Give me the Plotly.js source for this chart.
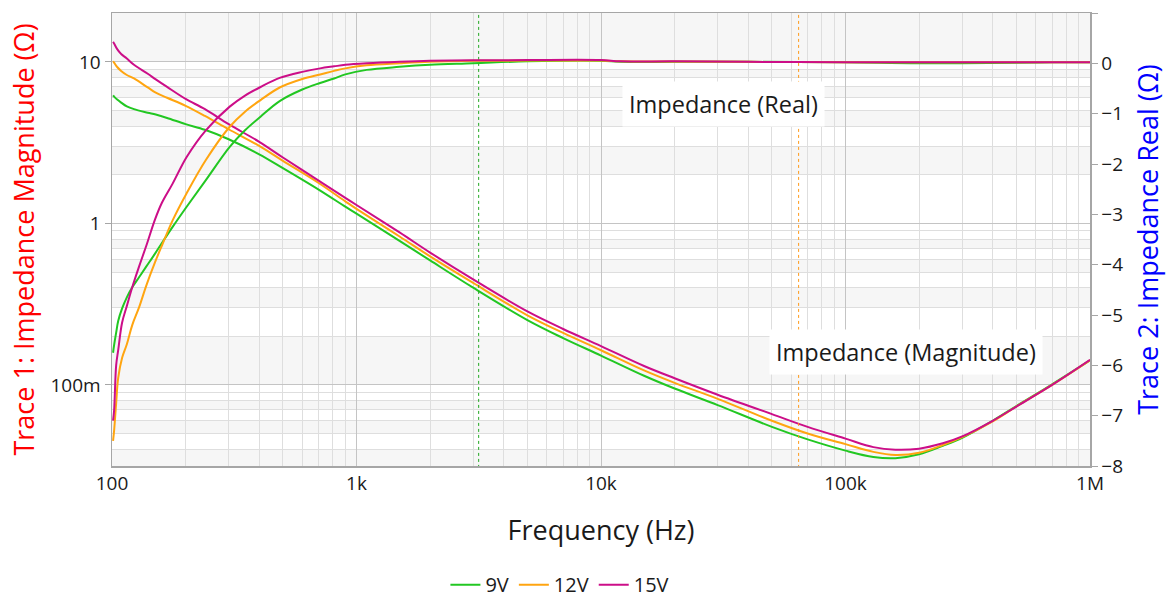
<!DOCTYPE html>
<html>
<head>
<meta charset="utf-8">
<script src="https://cdn.plot.ly/plotly-3.0.1.min.js"></script>
<style>html,body{margin:0;padding:0;background:#fff;}#chart{width:1167px;height:601px;}</style>
</head>
<body>
<div id="chart"></div>
<script>
// ---- Data ----
var seriesNames = ['9V', '12V', '15V'];
var seriesColors = ['#22c722', '#ffa510', '#cc0e88'];

// Trace 1: impedance magnitude (ohm), left log axis
var magFreq = [101, 102, 105, 109, 115, 123, 140, 151, 168, 200, 240, 300, 400, 500, 700, 900, 1000, 1500, 2000, 3000, 5000, 7000, 10000, 15000, 20000, 30000, 50000, 70000, 100000, 130000, 160000, 200000, 250000, 300000, 400000, 500000, 700000, 1000000];
var mag9V  = [6.2, 6.1, 5.85, 5.6, 5.3, 5.1, 4.85, 4.72, 4.5, 4.12, 3.8, 3.32, 2.68, 2.2, 1.62, 1.27, 1.15, 0.78, 0.59, 0.40, 0.252, 0.195, 0.152, 0.114, 0.095, 0.075, 0.055, 0.046, 0.0392, 0.0358, 0.0352, 0.0372, 0.042, 0.047, 0.060, 0.074, 0.101, 0.142];
var mag12V = [10.1, 9.9, 9.3, 8.8, 8.3, 7.9, 6.95, 6.45, 6.0, 5.35, 4.63, 3.83, 3.02, 2.44, 1.78, 1.37, 1.23, 0.83, 0.625, 0.428, 0.27, 0.21, 0.164, 0.123, 0.103, 0.082, 0.060, 0.050, 0.043, 0.0385, 0.0368, 0.0380, 0.0425, 0.0475, 0.0595, 0.0735, 0.100, 0.142];
var mag15V = [13.3, 13.0, 12.0, 11.2, 10.5, 9.6, 8.45, 7.8, 7.0, 5.9, 5.1, 4.12, 3.2, 2.56, 1.84, 1.44, 1.30, 0.88, 0.66, 0.45, 0.285, 0.222, 0.174, 0.131, 0.110, 0.087, 0.066, 0.055, 0.0465, 0.0412, 0.0397, 0.0403, 0.0435, 0.048, 0.060, 0.0735, 0.100, 0.143];

// Trace 2: impedance real (ohm), right linear axis
var realFreq = [101, 102, 104, 106, 110, 115, 121, 129, 138, 150, 160, 177, 202, 242, 303, 350, 405, 485, 600, 710, 810, 900, 1100, 1500, 2000, 3000, 5000, 10000, 12000, 20000, 40000, 100000, 200000, 500000, 700000, 1000000];
var real9V  = [-5.75, -5.6, -5.35, -5.12, -4.87, -4.65, -4.45, -4.25, -4.04, -3.78, -3.57, -3.25, -2.85, -2.32, -1.66, -1.33, -1.06, -0.75, -0.52, -0.39, -0.30, -0.22, -0.13, -0.07, -0.03, 0.0, 0.04, 0.05, 0.03, 0.03, 0.03, 0.02, 0.0, 0.01, 0.02, 0.02];
var real12V = [-7.5, -7.3, -6.75, -6.25, -5.85, -5.58, -5.2, -4.85, -4.42, -3.95, -3.62, -3.12, -2.58, -1.92, -1.26, -0.96, -0.73, -0.48, -0.31, -0.22, -0.15, -0.10, -0.04, 0.0, 0.03, 0.05, 0.055, 0.055, 0.04, 0.035, 0.03, 0.02, 0.02, 0.02, 0.02, 0.02];
var real15V = [-7.1, -6.9, -6.0, -5.7, -5.15, -4.82, -4.45, -4.04, -3.63, -3.1, -2.77, -2.39, -1.86, -1.33, -0.86, -0.64, -0.47, -0.29, -0.17, -0.10, -0.06, -0.03, 0.0, 0.03, 0.05, 0.06, 0.065, 0.065, 0.04, 0.04, 0.03, 0.02, 0.02, 0.02, 0.02, 0.02];

// Cursors (Hz)
var cursorFreqs = [3160, 64300];
var cursorColors = ['#22a822', '#ff9a1a'];

// Tick labels
var xTickVals = [100, 1000, 10000, 100000, 1000000];
var xTickText = ['100', '1k', '10k', '100k', '1M'];
var yTickVals = [0.1, 1, 10];
var yTickText = ['100m', '1', '10'];
var y2TickVals = [1, 0, -1, -2, -3, -4, -5, -6, -7, -8];

// ---- Build ----
function minorVals(lo, hi) {
  var out = [];
  for (var d = lo; d < hi; d *= 10) {
    for (var k = 2; k <= 9; k++) out.push(k * d);
  }
  return out;
}

var mags = [mag9V, mag12V, mag15V];
var reals = [real9V, real12V, real15V];
var traces = [];
for (var i = 0; i < 3; i++) {
  traces.push({
    x: realFreq, y: reals[i], type: 'scatter', mode: 'lines', yaxis: 'y2',
    name: seriesNames[i], legendgroup: seriesNames[i], showlegend: false,
    line: {color: seriesColors[i], width: 2, shape: 'spline', smoothing: 1.0},
    hoverinfo: 'skip'
  });
}
for (var j = 0; j < 3; j++) {
  traces.push({
    x: magFreq, y: mags[j], type: 'scatter', mode: 'lines', yaxis: 'y',
    name: seriesNames[j], legendgroup: seriesNames[j], showlegend: true,
    line: {color: seriesColors[j], width: 2, shape: 'spline', smoothing: 1.0}
  });
}
for (var c = 0; c < cursorFreqs.length; c++) {
  traces.push({
    x: [cursorFreqs[c], cursorFreqs[c]], y: [0.001, 1000], type: 'scatter', mode: 'lines',
    yaxis: 'y', showlegend: false, hoverinfo: 'skip',
    line: {color: cursorColors[c], width: 1, dash: 'dot'}
  });
}

// faint background bands (left-axis decade subdivisions)
var bandPairs = [[10, 30], [8, 9], [6, 7], [4, 5], [2, 3], [0.7, 0.8], [0.5, 0.6], [0.3, 0.4], [0.1, 0.2], [0.07, 0.08], [0.05, 0.06], [0.02, 0.04]];
var shapes = bandPairs.map(function (b) {
  return {type: 'rect', xref: 'paper', yref: 'y', x0: 0, x1: 1,
          y0: b[0], y1: b[1], fillcolor: '#f6f6f6', line: {width: 0}, layer: 'below'};
});

var fam = 'Open Sans, Noto Sans, sans-serif';
var tickFont = {family: fam, size: 19, color: '#1a1a1a'};

var layout = {
  width: 1167, height: 601,
  margin: {l: 112, r: 77, t: 13, b: 135, autoexpand: false},
  paper_bgcolor: '#ffffff', plot_bgcolor: '#ffffff',
  showlegend: true,
  legend: {orientation: 'h', x: 0.458, y: -0.262, xanchor: 'center', yanchor: 'middle',
           font: {family: fam, size: 20, color: '#1a1a1a'},
           itemwidth: 30, tracegroupgap: 0},
  xaxis: {
    type: 'log', range: [2, 6], tickmode: 'array', tickvals: xTickVals, ticktext: xTickText,
    tickfont: tickFont, ticks: '', showgrid: true, gridcolor: '#c4c4c4', gridwidth: 1,
    minor: {tickmode: 'array', tickvals: minorVals(100, 1000000), showgrid: true, gridcolor: '#dedede', gridwidth: 1, ticks: ''},
    showline: true, linecolor: '#a6a6a6', linewidth: 1.5, mirror: true, zeroline: false,
    title: {text: 'Frequency (Hz)', font: {family: fam, size: 27, color: '#1a1a1a'}, standoff: 26},
    automargin: false
  },
  yaxis: {
    type: 'log', range: [-1.502, 1.303], tickmode: 'array', tickvals: yTickVals, ticktext: yTickText,
    tickfont: tickFont, ticks: 'outside', ticklen: 6, tickcolor: '#a6a6a6',
    showgrid: true, gridcolor: '#c4c4c4', gridwidth: 1,
    minor: {tickmode: 'array', tickvals: minorVals(0.01, 10).concat([20]), showgrid: true, gridcolor: '#dedede', gridwidth: 1, ticks: ''},
    showline: true, linecolor: '#a6a6a6', linewidth: 1.5, mirror: true, zeroline: false,
    title: {text: 'Trace 1: Impedance Magnitude (Ω)', font: {family: fam, size: 27, color: '#ff0000'}, standoff: 8},
    automargin: false
  },
  yaxis2: {
    overlaying: 'y', side: 'right', range: [-8, 1], tickmode: 'array', tickvals: y2TickVals,
    tickfont: tickFont, ticks: 'outside', ticklen: 6, tickcolor: '#a6a6a6',
    showgrid: false, zeroline: false, showline: true, linecolor: '#a6a6a6', linewidth: 1.5,
    title: {text: 'Trace 2: Impedance Real (Ω)', font: {family: fam, size: 27, color: '#0000ff'}, standoff: 17},
    automargin: false
  },
  shapes: shapes,
  annotations: [
    {text: 'Impedance (Real)', xref: 'paper', yref: 'paper', x: 0.625, y: 0.800,
     xanchor: 'center', yanchor: 'middle', showarrow: false,
     bgcolor: '#ffffff', borderpad: 6, font: {family: fam, size: 23.5, color: '#1a1a1a'}},
    {text: 'Impedance (Magnitude)', xref: 'paper', yref: 'paper', x: 0.812, y: 0.2517,
     xanchor: 'center', yanchor: 'middle', showarrow: false,
     bgcolor: '#ffffff', borderpad: 6, font: {family: fam, size: 23.5, color: '#1a1a1a'}}
  ]
};

Plotly.newPlot('chart', traces, layout, {staticPlot: true, displayModeBar: false});
</script>
</body>
</html>
